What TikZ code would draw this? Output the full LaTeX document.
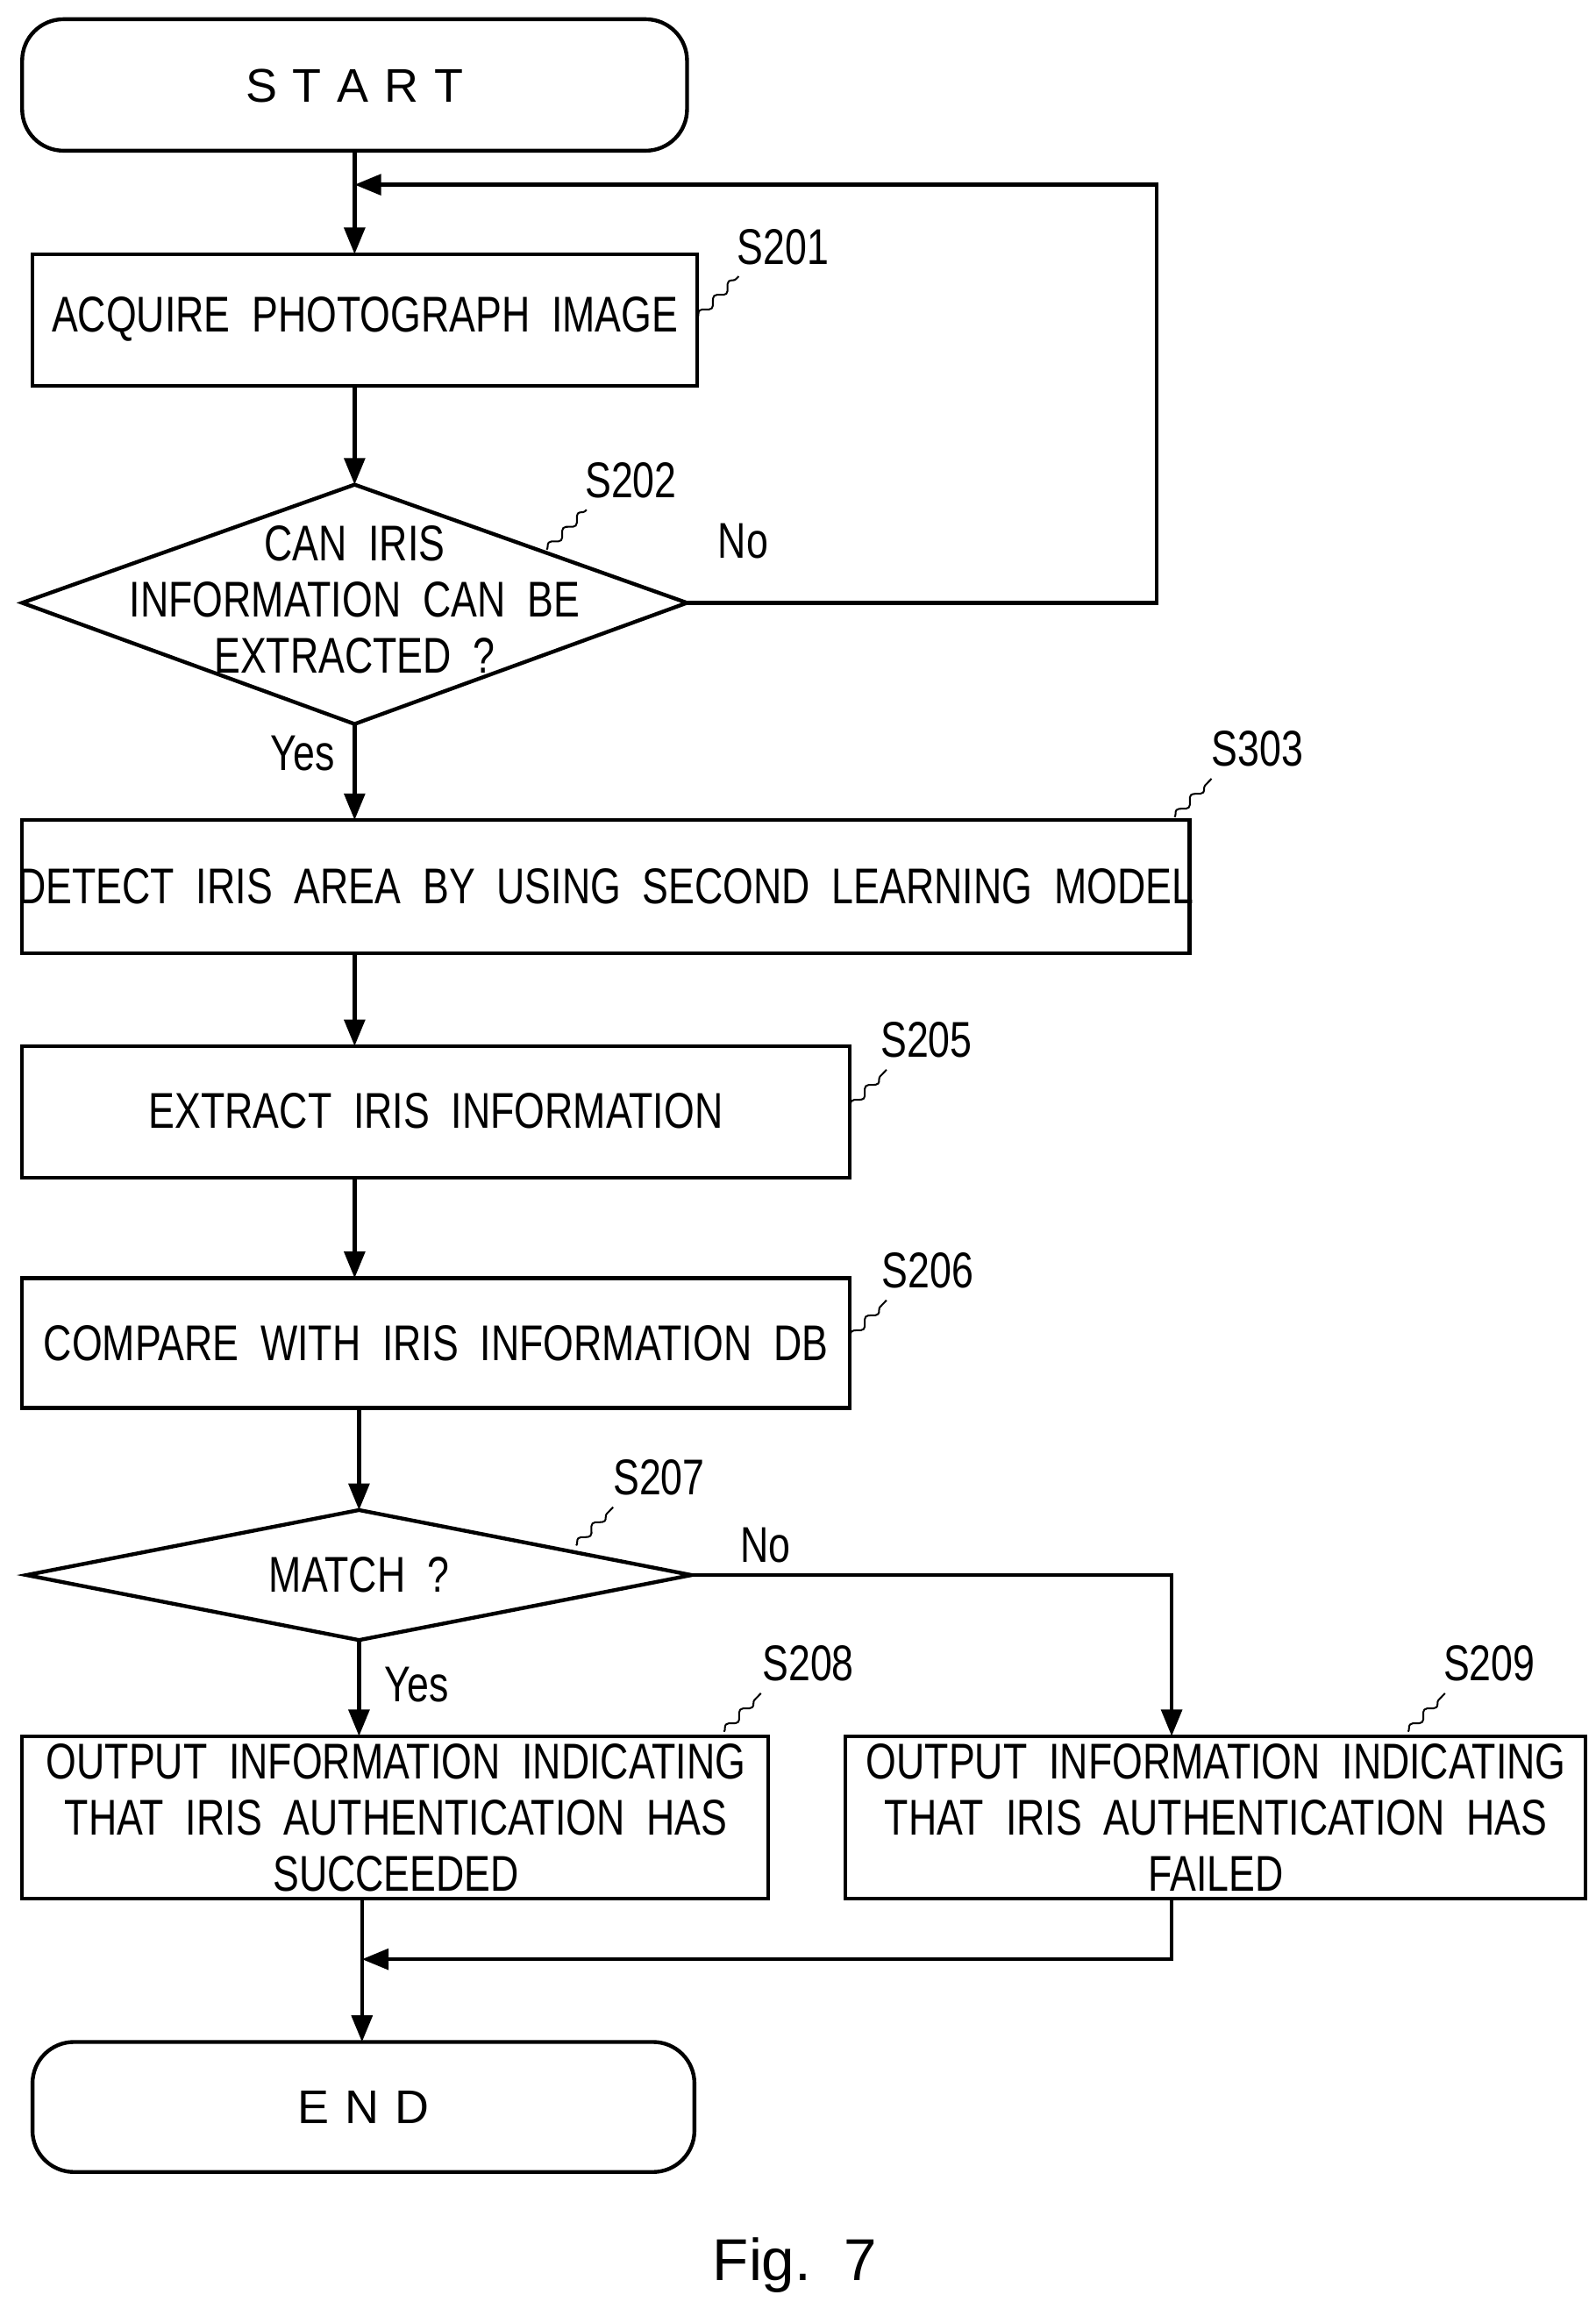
\documentclass[tikz,border=0pt]{standalone}
\usepackage{fontspec}
\setmainfont[FakeStretch=0.78]{Liberation Sans}
\newfontfamily\wide{Liberation Sans}
\usetikzlibrary{arrows.meta,decorations.pathmorphing}
\begin{document}
\begin{tikzpicture}[x=0.5pt,y=-0.5pt,
 line width=1.3pt,
 box/.style={draw,line width=1.3pt},
 lbl/.style={font=\fontsize{17}{17}\selectfont,inner sep=0},
 txt/.style={font=\fontsize{17}{19}\selectfont,align=center,inner sep=0},
 arr/.style={-{Triangle[length=9pt,width=7pt]}},
 sq/.style={line width=0.6pt,decorate,decoration={snake,amplitude=1.2pt,segment length=7pt}}]
\useasboundingbox (0,0) rectangle (1080,1558);
% START
\draw[rounded corners=14pt] (15,13) rectangle (465,102);
\node[txt,font={\wide\fontsize{16}{16}\selectfont}] (start) at (240,58) {S\,\,T\,\,A\,\,R\,\,T};
\coordinate (startb) at (240,102);
% S201
\draw[box] (22,172) rectangle (472,261);
\node[txt] (t201) at (247,216) {ACQUIRE\ \ PHOTOGRAPH\ \ IMAGE};
\node[lbl] (l201) at (530,167) {S201};
\draw[sq] (472,215) -- (500,187);
% S202
\draw[box] (15,408) -- (240,328) -- (465,408) -- (240,490) -- cycle;
\node[txt] (t202) at (240,406) {CAN\ \ IRIS\\INFORMATION\ \ CAN\ \ BE\\EXTRACTED\ \ ?};
\node[lbl] (l202) at (427,325) {S202};
\draw[sq] (370,372) -- (397,345);
\node[lbl] (no1) at (503,366) {No};
\node[lbl] (yes1) at (205,510) {Yes};
% S303
\draw[box] (15,555) rectangle (805,645);
\node[txt] (t303) at (410,600) {DETECT\ \ IRIS\ \ AREA\ \ BY\ \ USING\ \ SECOND\ \ LEARNING\ \ MODEL};
\node[lbl] (l303) at (851,507) {S303};
\draw[sq] (795,553) -- (820,527);
% S205
\draw[box] (15,708) rectangle (575,797);
\node[txt] (t205) at (295,752) {EXTRACT\ \ IRIS\ \ INFORMATION};
\node[lbl] (l205) at (627,704) {S205};
\draw[sq] (575,750) -- (600,724);
% S206
\draw[box] (15,865) rectangle (575,953);
\node[txt] (t206) at (295,909) {COMPARE\ \ WITH\ \ IRIS\ \ INFORMATION\ \ DB};
\node[lbl] (l206) at (628,860) {S206};
\draw[sq] (575,906) -- (600,880);
% S207
\draw[box] (18,1066) -- (243,1022) -- (468,1066) -- (243,1110) -- cycle;
\node[txt] (t207) at (243,1066) {MATCH\ \ ?};
\node[lbl] (l207) at (446,1000) {S207};
\draw[sq] (390,1046) -- (415,1020);
\node[lbl] (no2) at (518,1046) {No};
\node[lbl] (yes2) at (282,1140) {Yes};
% S208
\draw[box] (15,1175) rectangle (520,1285);
\node[txt] (t208) at (268,1230) {OUTPUT\ \ INFORMATION\ \ INDICATING\\THAT\ \ IRIS\ \ AUTHENTICATION\ \ HAS\\SUCCEEDED};
\node[lbl] (l208) at (547,1126) {S208};
\draw[sq] (490,1172) -- (515,1146);
% S209
\draw[box] (572,1175) rectangle (1073,1285);
\node[txt] (t209) at (823,1230) {OUTPUT\ \ INFORMATION\ \ INDICATING\\THAT\ \ IRIS\ \ AUTHENTICATION\ \ HAS\\FAILED};
\node[lbl] (l209) at (1008,1126) {S209};
\draw[sq] (953,1172) -- (978,1146);
% END
\draw[rounded corners=14pt] (22,1382) rectangle (470,1470);
\node[txt,font={\wide\fontsize{16}{16}\selectfont}] (endn) at (246,1426) {E\,\,N\,\,D};
% connectors
\draw[arr] (240,102) -- (240,172);
\draw[arr] (240,261) -- (240,328);
\draw[arr] (465,408) -- (783,408) -- (783,125) -- (240,125);
\draw[arr] (240,490) -- (240,555);
\draw[arr] (240,645) -- (240,708);
\draw[arr] (240,797) -- (240,865);
\draw[arr] (243,953) -- (243,1022);
\draw[arr] (243,1110) -- (243,1175);
\draw[arr] (468,1066) -- (793,1066) -- (793,1175);
\draw[arr] (245,1285) -- (245,1382);
\draw[arr] (793,1285) -- (793,1326) -- (245,1326);
\node[font={\wide\fontsize{20}{20}\selectfont}] (fig) at (538,1533) {Fig.\ \ 7};
\end{tikzpicture}
\end{document}
